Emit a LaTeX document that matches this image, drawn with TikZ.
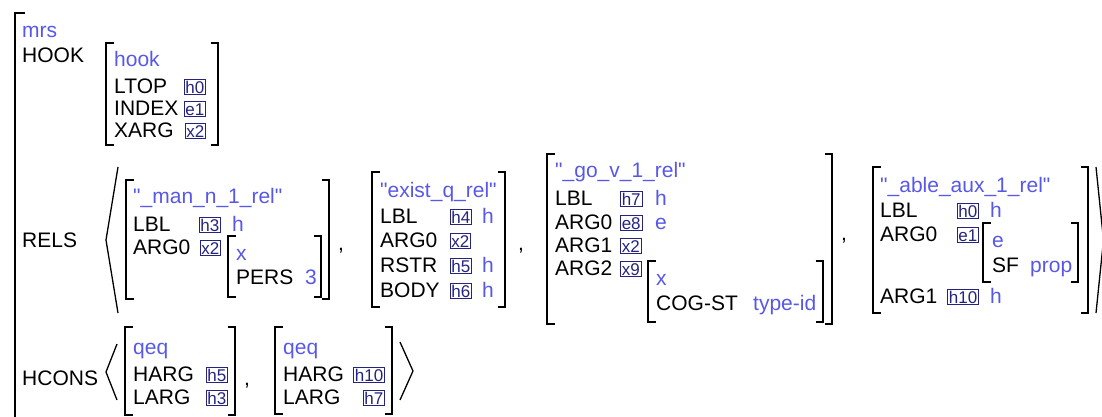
\documentclass[tikz,border=0pt]{standalone}
\usepackage{fontspec}
\setmainfont{Liberation Sans}
\definecolor{avmblue}{RGB}{88,88,232}
\definecolor{tagnavy}{RGB}{36,36,128}

\begin{document}
\begin{tikzpicture}[x=1pt, y=-1pt, font=\fontsize{21}{24}\selectfont,
    lab/.style={anchor=base west, inner sep=0pt},
    typ/.style={lab, text=avmblue},
    tag/.style={anchor=base east, draw=tagnavy, text=tagnavy, line width=0.9pt,
      font=\fontsize{17}{17}\selectfont, inner xsep=1.3pt, inner ysep=1.4pt,
      text height=12.4pt, text depth=0pt},
    brk/.style={line width=1.8pt},
    ang/.style={line width=1.3pt}]
  \clip (0,0) rectangle (1102,416);

  % outer mrs
  \draw[brk] (25,13) -| (15,440);
  \node[typ] (mrs) at (22,37) {mrs};
  \node[lab] (hooklab) at (22,62) {HOOK};
  \node[lab] (relslab) at (22,247) {RELS};
  \node[lab] (hconslab) at (22,385) {HCONS};

  % HOOK value
  \draw[brk] (113.5,43) -| (106,145) -- (113.5,145) (210.5,43) -| (218,145) -- (210.5,145);
  \node[typ] (hook) at (114,66) {hook};
  \node[lab] (ltop) at (114,93) {LTOP};   \node[tag] (ltopv) at (206,93) {h0};
  \node[lab] (index) at (114,115) {INDEX}; \node[tag] (indexv) at (206,115) {e1};
  \node[lab] (xarg) at (114,137) {XARG};   \node[tag] (xargv) at (206,137) {x2};

  % RELS list
  \draw[ang] (118,167) -- (106,240) -- (118,313);
  \draw[ang] (1096,167) -- (1103.5,240) -- (1096,313);

  % _man_n_1_rel
  \draw[brk] (133.5,180) -| (126,299) -- (133.5,299) (321.5,180) -| (329,299) -- (321.5,299);
  \node[typ] (manpred) at (133,203) {\textquotedbl\_man\_n\_1\_rel\textquotedbl};
  \node[lab] (manlbl) at (133,231) {LBL};   \node[tag] (manlblv) at (221,231) {h3};
  \node[typ] (manlblt) at (232,231) {h};
  \node[lab] (manarg) at (133,254) {ARG0};  \node[tag] (manargv) at (221,254) {x2};
  \draw[brk] (235.5,236) -| (228,297) -- (235.5,297) (313.5,236) -| (321,297) -- (313.5,297);
  \node[typ] (manx) at (236,260) {x};
  \node[lab] (manpers) at (236,284) {PERS};  \node[typ] (manpersv) at (305,284) {3};
  \node[lab] (comma1) at (338,250) {,};

  % exist_q_rel
  \draw[brk] (379.5,172) -| (372,307) -- (379.5,307) (497.5,172) -| (505,307) -- (497.5,307);
  \node[typ] (expred) at (380,197) {\textquotedbl exist\_q\_rel\textquotedbl};
  \node[lab] (exlbl) at (380,223) {LBL};    \node[tag] (exlblv) at (472,223) {h4};
  \node[typ] (exlblt) at (482,223) {h};
  \node[lab] (exarg) at (380,247) {ARG0};   \node[tag] (exargv) at (471,247) {x2};
  \node[lab] (exrstr) at (380,272) {RSTR};  \node[tag] (exrstrv) at (472,272) {h5};
  \node[typ] (exrstrt) at (482,272) {h};
  \node[lab] (exbody) at (380,297) {BODY};  \node[tag] (exbodyv) at (472,297) {h6};
  \node[typ] (exbodyt) at (482,297) {h};
  \node[lab] (comma2) at (518,250) {,};

  % _go_v_1_rel
  \draw[brk] (554.5,154) -| (547,324) -- (554.5,324) (824.5,154) -| (832,324) -- (824.5,324);
  \node[typ] (gopred) at (555,177) {\textquotedbl\_go\_v\_1\_rel\textquotedbl};
  \node[lab] (golbl) at (555,205) {LBL};   \node[tag, anchor=base west] (golblv) at (620,205) {h7};
  \node[typ] (golblt) at (655,205) {h};
  \node[lab] (goarg0) at (555,229) {ARG0}; \node[tag, anchor=base west] (goarg0v) at (620,229) {e8};
  \node[typ] (goarg0t) at (655,229) {e};
  \node[lab] (goarg1) at (555,252) {ARG1}; \node[tag, anchor=base west] (goarg1v) at (620,252) {x2};
  \node[lab] (goarg2) at (555,275) {ARG2}; \node[tag, anchor=base west] (goarg2v) at (620,275) {x9};
  \draw[brk] (655.5,261) -| (648,322) -- (655.5,322) (815.5,261) -| (823,322) -- (815.5,322);
  \node[typ] (gox) at (656,285) {x};
  \node[lab] (gocog) at (656,310) {COG-ST}; \node[typ] (gocogv) at (753,310) {type-id};
  \node[lab] (comma3) at (841,240) {,};

  % _able_aux_1_rel
  \draw[brk] (880.5,167) -| (873,313) -- (880.5,313) (1080.5,167) -| (1088,313) -- (1080.5,313);
  \node[typ] (ablepred) at (880,192) {\textquotedbl\_able\_aux\_1\_rel\textquotedbl};
  \node[lab] (ablelbl) at (880,217) {LBL};  \node[tag] (ablelblv) at (979,217) {h0};
  \node[typ] (ablelblt) at (990,217) {h};
  \node[lab] (ablearg0) at (880,241) {ARG0}; \node[tag] (ablearg0v) at (979,241) {e1};
  \draw[brk] (990.5,223) -| (983,282) -- (990.5,282) (1070.5,223) -| (1078,282) -- (1070.5,282);
  \node[typ] (ablee) at (992,247) {e};
  \node[lab] (ablesf) at (992,272) {SF};    \node[typ] (ablesfv) at (1030,272) {prop};
  \node[lab] (ablearg1) at (880,303) {ARG1}; \node[tag] (ablearg1v) at (979,303) {h10};
  \node[typ] (ablearg1t) at (990,303) {h};

  % HCONS list
  \draw[ang] (117,344) -- (106,372) -- (117,400);
  \draw[ang] (400,342) -- (413,371) -- (400,400);

  % qeq h5 h3
  \draw[brk] (132.5,327) -| (125,415) -- (132.5,415) (227.5,327) -| (235,415) -- (227.5,415);
  \node[typ] (qeqa) at (133,354) {qeq};
  \node[lab] (qeqaharg) at (133,381) {HARG}; \node[tag] (qeqahargv) at (228,381) {h5};
  \node[lab] (qeqalarg) at (133,404) {LARG}; \node[tag] (qeqalargv) at (228,404) {h3};
  \node[lab] (comma4) at (244,385) {,};

  % qeq h10 h7
  \draw[brk] (282.5,327) -| (275,414) -- (282.5,414) (384.5,327) -| (392,414) -- (384.5,414);
  \node[typ] (qeqb) at (283,354) {qeq};
  \node[lab] (qeqbharg) at (283,381) {HARG}; \node[tag] (qeqbhargv) at (385,381) {h10};
  \node[lab] (qeqblarg) at (283,404) {LARG}; \node[tag] (qeqblargv) at (385,404) {h7};
\end{tikzpicture}
\end{document}
